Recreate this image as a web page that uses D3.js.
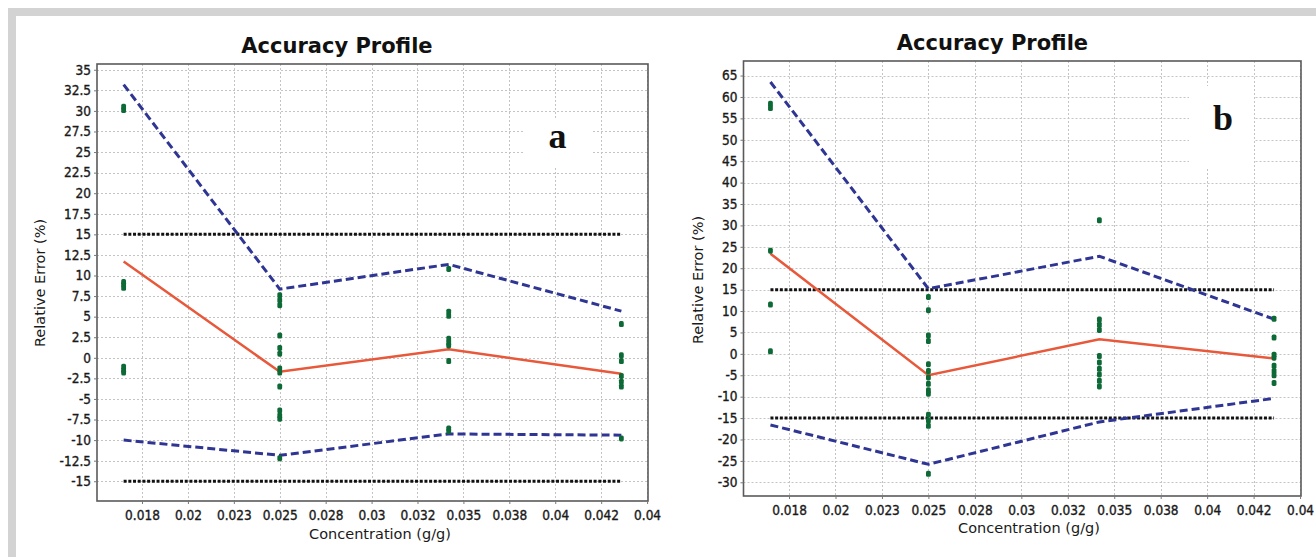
<!DOCTYPE html>
<html>
<head>
<meta charset="utf-8">
<script src="https://cdn.jsdelivr.net/npm/d3@7/dist/d3.min.js"></script>
<style>
  html, body { margin: 0; padding: 0; background: #ffffff; }
  svg { display: block; }
  .tick-label { font-family: "DejaVu Sans Condensed", "DejaVu Sans", sans-serif; font-stretch: condensed; font-size: 13.5px; fill: #1a1a1a; stroke: #1a1a1a; stroke-width: 0.35px; }
  .axis-title { font-family: "DejaVu Sans", sans-serif; font-size: 14.5px; fill: #1a1a1a; }
  .chart-title { font-family: "DejaVu Sans", sans-serif; font-weight: bold; font-size: 21px; fill: #111; }
  .panel-letter { font-family: "Liberation Serif", "Times New Roman", serif; font-weight: bold; font-size: 36px; fill: #111; }
</style>
</head>
<body>
<svg id="chart" width="1316" height="557"></svg>
<script>
// ---------------- DATA ----------------
const concentrations = [0.0165, 0.025, 0.0342, 0.0436];

const xTickValues = [0.0175, 0.02, 0.0225, 0.025, 0.0275, 0.03, 0.0325, 0.035, 0.0375, 0.04, 0.0425, 0.045];
const xTickLabels = ["0.018", "0.02", "0.023", "0.025", "0.028", "0.03", "0.032", "0.035", "0.038", "0.04", "0.042", "0.04"];

// Panel a
const yTicksA = [35, 32.5, 30, 27.5, 25, 22.5, 20, 17.5, 15, 12.5, 10, 7.5, 5, 2.5, 0, -2.5, -5, -7.5, -10, -12.5, -15];
const yTickLabelsA = ["35", "32.5", "30", "27.5", "25", "22.5", "20", "17.5", "15", "12.5", "10", "7.5", "5", "2.5", "0", "-2.5", "-5", "-7.5", "-10", "-12.5", "-15"];
const meanA = [11.7, -1.7, 1.05, -1.95];
const upperA = [33.2, 8.35, 11.35, 5.67];
const lowerA = [-10.0, -11.85, -9.25, -9.4];
const acceptanceA = [15, -15];
const pointsA = [
  [30.1, 30.5, 8.5, 8.9, 9.2, -1.1, -1.5, -1.8],
  [7.6, 7.0, 6.4, 2.7, 1.2, 0.5, -1.3, -1.8, -3.5, -6.4, -7.0, -7.4, -12.2],
  [10.8, 5.6, 5.1, 2.3, 1.8, 1.5, -0.4, -8.6, -8.9],
  [4.1, 0.3, -0.4, -2.2, -2.9, -3.5, -9.8]
];

// Panel b
const yTicksB = [65, 60, 55, 50, 45, 40, 35, 30, 25, 20, 15, 10, 5, 0, -5, -10, -15, -20, -25, -30];
const yTickLabelsB = ["65", "60", "55", "50", "45", "40", "35", "30", "25", "20", "15", "10", "5", "0", "-5", "-10", "-15", "-20", "-25", "-30"];
const meanB = [23.4, -5.0, 3.4, -1.1];
const upperB = [63.5, 15.2, 22.8, 8.1];
const lowerB = [-16.6, -25.8, -15.9, -10.4];
const acceptanceB = [15, -15];
const pointsB = [
  [58.4, 57.4, 24.1, 11.5, 0.6],
  [13.3, 10.2, 4.3, 3.0, -2.4, -4.0, -5.5, -7.0, -8.5, -9.3, -14.2, -15.6, -16.8, -28.0],
  [31.2, 8.0, 6.8, 5.6, -0.5, -2.0, -3.5, -4.8, -6.3, -7.6],
  [8.2, 3.8, -0.2, -0.9, -2.8, -4.0, -5.0, -6.8]
];

const titleText = "Accuracy Profile";
const xTitleText = "Concentration (g/g)";
const yTitleText = "Relative Error (%)";

// ---------------- DRAW ----------------
const svg = d3.select("#chart");

// outer grey frame
svg.append("rect").attr("x", 8).attr("y", 8).attr("width", 1308).attr("height", 8).attr("fill", "#d3d3d3");
svg.append("rect").attr("x", 8).attr("y", 8).attr("width", 8).attr("height", 549).attr("fill", "#d3d3d3");

function drawPanel(cfg) {
  const g = svg.append("g");
  const x = d3.scaleLinear().domain([0.01505, 0.04505]).range([cfg.left, cfg.right]);
  const y = d3.scaleLinear().domain(cfg.yDomain).range([cfg.bottom, cfg.top]);

  // plot background
  g.append("rect").attr("x", cfg.left).attr("y", cfg.top)
    .attr("width", cfg.right - cfg.left).attr("height", cfg.bottom - cfg.top).attr("fill", "#fff");

  // grid
  const grid = g.append("g").attr("stroke", "#c4c4c4").attr("stroke-width", 1).attr("stroke-dasharray", "2,2");
  grid.selectAll("line.h").data(cfg.yTicks).join("line")
    .attr("x1", cfg.left).attr("x2", cfg.right)
    .attr("y1", d => Math.round(y(d)) + 0.5).attr("y2", d => Math.round(y(d)) + 0.5);
  grid.selectAll("line.v").data(xTickValues).join("line")
    .attr("y1", cfg.top).attr("y2", cfg.bottom)
    .attr("x1", d => Math.round(x(d)) + 0.5).attr("x2", d => Math.round(x(d)) + 0.5);

  // white box for panel letter
  g.append("rect").attr("x", cfg.letterBox[0]).attr("y", cfg.letterBox[1])
    .attr("width", cfg.letterBox[2]).attr("height", cfg.letterBox[3]).attr("fill", "#fff");
  g.append("text").attr("class", "panel-letter").attr("text-anchor", "middle")
    .attr("x", cfg.letterPos[0]).attr("y", cfg.letterPos[1]).text(cfg.letter);

  // acceptance limits (black dotted)
  const xFirst = concentrations[0], xLast = concentrations[concentrations.length - 1];
  g.selectAll("line.acc").data(cfg.acceptance).join("line")
    .attr("x1", x(xFirst)).attr("x2", x(xLast))
    .attr("y1", d => y(d)).attr("y2", d => y(d))
    .attr("stroke", "#111").attr("stroke-width", 3).attr("stroke-dasharray", "3,1.7");

  const line = d3.line().x((d, i) => x(concentrations[i])).y(d => y(d));

  // tolerance limits (blue dashed)
  [cfg.upper, cfg.lower].forEach(arr => {
    g.append("path").attr("d", line(arr)).attr("fill", "none")
      .attr("stroke", "#2f3592").attr("stroke-width", 3).attr("stroke-dasharray", "8,4");
  });

  // mean bias (red)
  g.append("path").attr("d", line(cfg.mean)).attr("fill", "none")
    .attr("stroke", "#e8583a").attr("stroke-width", 2.5);

  // observations (green markers)
  const pts = [];
  cfg.points.forEach((grp, i) => grp.forEach(v => pts.push({ c: concentrations[i], v })));
  g.selectAll("rect.pt").data(pts).join("rect")
    .attr("x", d => x(d.c) - 2.4).attr("y", d => y(d.v) - 3)
    .attr("width", 4.8).attr("height", 6).attr("rx", 1.6)
    .attr("fill", "#0d6a36");

  // frame
  g.append("rect").attr("x", cfg.left).attr("y", cfg.top)
    .attr("width", cfg.right - cfg.left).attr("height", cfg.bottom - cfg.top)
    .attr("fill", "none").attr("stroke", "#5a5a5a").attr("stroke-width", 1.6);

  // y axis
  const yAxis = d3.axisLeft(y).tickValues(cfg.yTicks).tickSize(3).tickPadding(3)
    .tickFormat((d, i) => cfg.yTickLabels[i]);
  const ya = g.append("g").attr("transform", `translate(${cfg.left},0)`).call(yAxis);
  ya.select(".domain").remove();
  ya.selectAll(".tick line").attr("stroke", "#777");
  ya.selectAll(".tick text").attr("class", "tick-label").attr("font-size", null).attr("font-family", null).attr("fill", null);
  ya.attr("font-size", null).attr("font-family", null);

  // x axis
  const xAxis = d3.axisBottom(x).tickValues(xTickValues).tickSize(3).tickPadding(4)
    .tickFormat((d, i) => xTickLabels[i]);
  const xa = g.append("g").attr("transform", `translate(0,${cfg.bottom})`).call(xAxis);
  xa.select(".domain").remove();
  xa.selectAll(".tick line").attr("stroke", "#777");
  xa.selectAll(".tick text").attr("class", "tick-label").attr("font-size", null).attr("font-family", null).attr("fill", null)
    .attr("dy", null).attr("y", cfg.xLabelBaseline - cfg.bottom);
  xa.attr("font-size", null).attr("font-family", null);

  // titles
  g.append("text").attr("class", "chart-title").attr("text-anchor", "middle")
    .attr("x", cfg.titlePos[0]).attr("y", cfg.titlePos[1]).text(titleText);
  g.append("text").attr("class", "axis-title").attr("text-anchor", "middle")
    .attr("x", cfg.xTitlePos[0]).attr("y", cfg.xTitlePos[1]).text(xTitleText);
  g.append("text").attr("class", "axis-title").attr("text-anchor", "middle")
    .attr("transform", `translate(${cfg.yTitlePos[0]},${cfg.yTitlePos[1]}) rotate(-90)`).text(yTitleText);
}

drawPanel({
  left: 97, right: 648, top: 64, bottom: 501,
  yDomain: [-17.4, 35.7], yTicks: yTicksA, yTickLabels: yTickLabelsA,
  mean: meanA, upper: upperA, lower: lowerA, acceptance: acceptanceA, points: pointsA,
  letter: "a", letterBox: [524, 119, 67, 47], letterPos: [557.5, 148],
  titlePos: [337, 53], xTitlePos: [380, 539], yTitlePos: [45, 283], xLabelBaseline: 520
});

drawPanel({
  left: 743.5, right: 1301, top: 61, bottom: 496,
  yDomain: [-33.2, 68.4], yTicks: yTicksB, yTickLabels: yTickLabelsB,
  mean: meanB, upper: upperB, lower: lowerB, acceptance: acceptanceB, points: pointsB,
  letter: "b", letterBox: [1189, 86, 65, 82], letterPos: [1223, 130],
  titlePos: [992.5, 50], xTitlePos: [1029, 533], yTitlePos: [703, 280], xLabelBaseline: 515
});
</script>
</body>
</html>
